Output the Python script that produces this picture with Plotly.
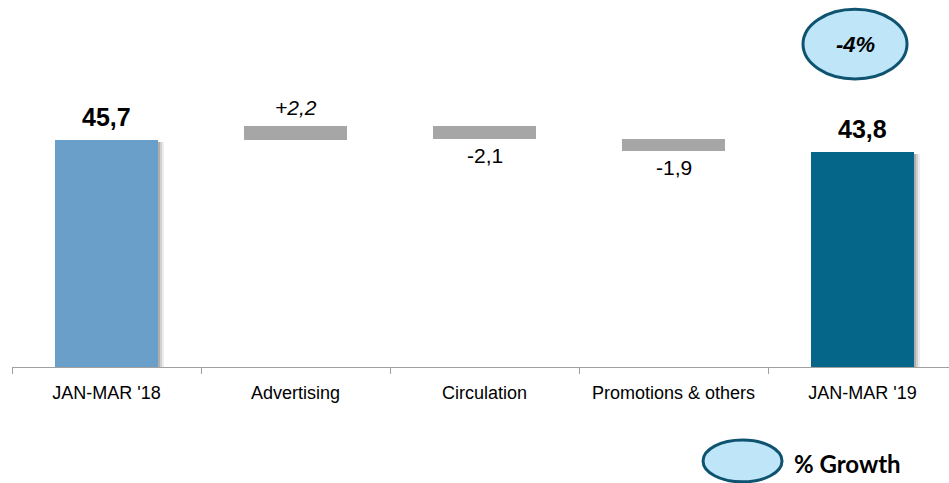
import plotly.graph_objects as go

# Revenue bridge, Q1 2018 -> Q1 2019 (millions)
categories = ["JAN-MAR '18", "Advertising", "Circulation", "Promotions & others", "JAN-MAR '19"]
start_total = 45.7
deltas = [2.2, -2.1, -1.9]
end_total = 43.8

COL_START = "#6A9FCA"
COL_END = "#066689"
COL_DELTA = "#A6A6A6"
AXIS_GREY = "#A0A0A0"
FONT = "Liberation Sans, Arial, sans-serif"

Y_MIN, Y_MAX = 9.84, 67.8
PLOT_W, PLOT_H = 937, 367
BAR_W = 0.55
px_per_unit = PLOT_H / (Y_MAX - Y_MIN)


def fmt(v, signed=False):
    s = f"{v:+.1f}" if signed else f"{v:.1f}"
    return s.replace(".", ",")


# floating segments for the deltas
bases, heights = [], []
running = start_total
for d in deltas:
    bases.append(running)
    heights.append(d)
    running += d

delta_cats = categories[1:-1]
total_cats = [categories[0], categories[-1]]
total_vals = [start_total, end_total]

fig = go.Figure()

# soft drop shadow behind the two total bars
for shift_px, alpha in [(6, 0.07), (4, 0.12), (2, 0.16)]:
    fig.add_trace(go.Bar(
        x=total_cats, y=[v - 2 / px_per_unit for v in total_vals],
        width=BAR_W, offset=-BAR_W / 2 + shift_px / 189,
        marker=dict(color=f"rgba(0,0,0,{alpha})", line_width=0),
        hoverinfo="skip", showlegend=False,
    ))

fig.add_trace(go.Bar(
    x=total_cats, y=total_vals, width=BAR_W, offset=-BAR_W / 2,
    marker=dict(color=[COL_START, COL_END], line_width=0),
    showlegend=False,
))

fig.add_trace(go.Bar(
    x=delta_cats, y=heights, base=bases, width=BAR_W, offset=-BAR_W / 2,
    marker=dict(color=COL_DELTA, line_width=0),
    showlegend=False,
))

annotations = []
for cat, v in zip(total_cats, total_vals):
    annotations.append(dict(
        x=cat, y=v, xref="x", yref="y", text=f"<b>{fmt(v)}</b>",
        showarrow=False, xanchor="center", yanchor="middle", yshift=23,
        font=dict(family=FONT, size=25, color="#000000"),
    ))
for cat, b, d in zip(delta_cats, bases, heights):
    if d >= 0:
        annotations.append(dict(
            x=cat, y=b + d, xref="x", yref="y", text=f"<i>{fmt(d, True)}</i>",
            showarrow=False, xanchor="center", yanchor="middle", yshift=19,
            font=dict(family=FONT, size=21, color="#000000"),
        ))
    else:
        annotations.append(dict(
            x=cat, y=b + d, xref="x", yref="y", text=fmt(d),
            showarrow=False, xanchor="center", yanchor="middle", yshift=-16,
            font=dict(family=FONT, size=21, color="#000000"),
        ))

growth = (end_total - start_total) / start_total * 100

# growth bubble over the closing bar
fig.add_shape(type="circle", xref="paper", yref="paper",
              x0=0.8442, x1=0.9552, y0=0.785, y1=0.975,
              fillcolor="#BEE6F8", line=dict(color="#0E5470", width=3))
annotations.append(dict(
    x=0.8997, y=0.880, xref="paper", yref="paper",
    xanchor="center", yanchor="middle",
    text=f"<b><i>{growth:.0f}%</i></b>", showarrow=False,
    font=dict(family=FONT, size=22, color="#000000"),
))

# key for the bubble
fig.add_shape(type="circle", xref="paper", yref="paper",
              x0=0.7375, x1=0.8218, y0=-0.313, y1=-0.199,
              fillcolor="#BEE6F8", line=dict(color="#0E5470", width=3))
annotations.append(dict(
    x=0.8324, y=-0.2616, xref="paper", yref="paper",
    xanchor="left", yanchor="middle",
    text="<b>% Growth</b>", showarrow=False,
    font=dict(family="Lato, Open Sans, sans-serif", size=24, color="#000000"),
))

fig.update_layout(
    width=949, height=483,
    margin=dict(l=12, r=0, t=0, b=116),
    paper_bgcolor="white", plot_bgcolor="white",
    barmode="overlay", bargap=0,
    annotations=annotations,
    xaxis=dict(
        type="category", categoryorder="array", categoryarray=categories,
        range=[-0.5, -0.5 + PLOT_W / 189],
        showline=True, linecolor=AXIS_GREY, linewidth=1,
        ticks="outside", tickson="boundaries", ticklen=6, tickcolor=AXIS_GREY,
        showgrid=False, zeroline=False,
        tickfont=dict(family=FONT, size=18, color="#000000"),
        ticklabelstandoff=9,
    ),
    yaxis=dict(range=[Y_MIN, Y_MAX], visible=False, showgrid=False, zeroline=False),
)

fig.write_html("out.html")
